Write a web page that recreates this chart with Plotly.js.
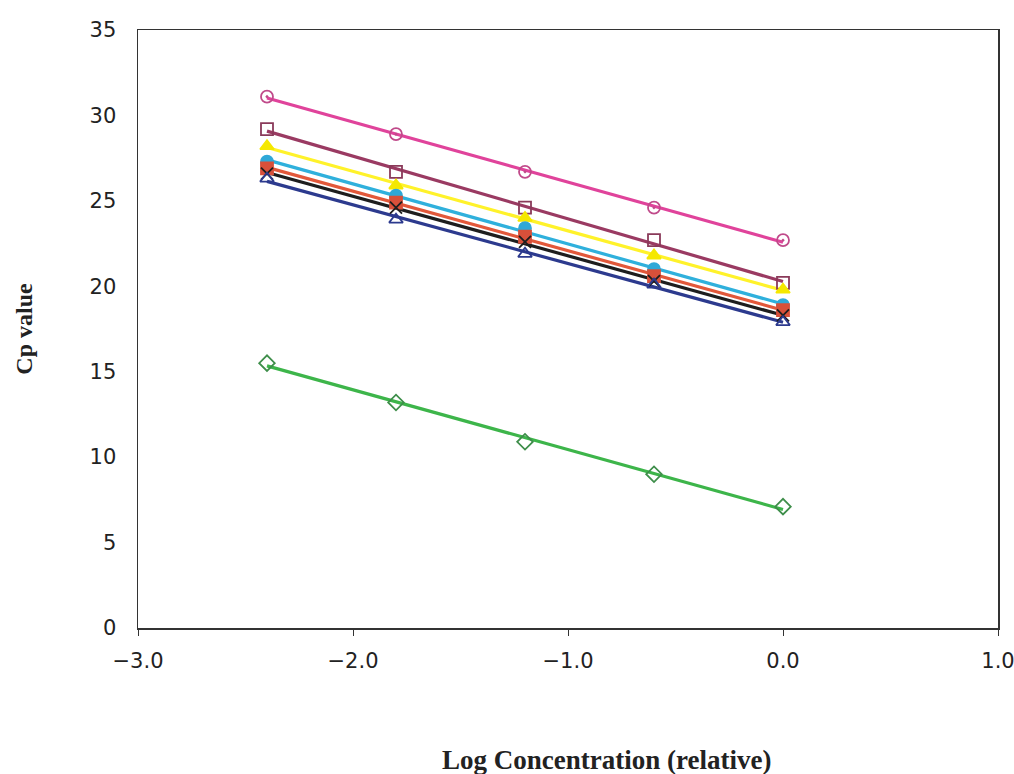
<!DOCTYPE html>
<html>
<head>
<meta charset="utf-8">
<script src="https://cdn.plot.ly/plotly-3.0.1.min.js"></script>
<style>
html,body{margin:0;padding:0;background:#fff;}
#chart{width:1014px;height:774px;}
</style>
</head>
<body>
<div id="chart"></div>
<script>
// Data
const logConc = [-2.4, -1.8, -1.2, -0.6, 0.0];

const seriesPink   = [31.1, 28.9, 26.7, 24.6, 22.7];
const seriesPlum   = [29.2, 26.7, 24.6, 22.7, 20.2];
const seriesYellow = [28.2, 25.9, 24.0, 21.8, 19.8];
const seriesCyan   = [27.3, 25.3, 23.4, 21.0, 18.9];
const seriesRed    = [26.9, 24.9, 22.9, 20.6, 18.6];
const seriesBlack  = [26.6, 24.6, 22.6, 20.3, 18.3];
const seriesNavy   = [26.3, 23.9, 21.9, 20.1, 17.9];
const seriesGreen  = [15.5, 13.2, 10.9, 9.0, 7.1];

const xTickVals = [-3, -2, -1, 0, 1];
const xTickText = ['\u22123.0', '\u22122.0', '\u22121.0', '0.0', '1.0'];
const yTickVals = [0, 5, 10, 15, 20, 25, 30, 35];

const styles = [
  {y: seriesPink,   color: '#E0439B', symbol: 'circle-open-dot', mcolor: '#C04A8A'},
  {y: seriesPlum,   color: '#9A3A62', symbol: 'square-open',     mcolor: '#8A3A5A'},
  {y: seriesYellow, color: '#FFF22A', symbol: 'triangle-up',     mcolor: '#F5E800'},
  {y: seriesCyan,   color: '#2FB0DC', symbol: 'circle',          mcolor: '#2FA8D8'},
  {y: seriesRed,    color: '#E2583A', symbol: 'square',          mcolor: '#D8503A'},
  {y: seriesBlack,  color: '#1E1E1E', symbol: 'x-thin-open',     mcolor: '#1E1E1E'},
  {y: seriesNavy,   color: '#2C3A8E', symbol: 'triangle-up-open',mcolor: '#2C3A8E'},
  {y: seriesGreen,  color: '#3DB54A', symbol: 'diamond-open',    mcolor: '#3E8E4A'}
];

function linFit(xs, ys) {
  const n = xs.length;
  let sx=0, sy=0, sxx=0, sxy=0;
  for (let i=0;i<n;i++){sx+=xs[i];sy+=ys[i];sxx+=xs[i]*xs[i];sxy+=xs[i]*ys[i];}
  const b = (n*sxy - sx*sy)/(n*sxx - sx*sx);
  const a = (sy - b*sx)/n;
  return {a, b};
}

const traces = [];
const xEnds = [logConc[0], logConc[logConc.length-1]];
styles.forEach(s => {
  const f = linFit(logConc, s.y);
  traces.push({
    x: xEnds, y: xEnds.map(x => f.a + f.b*x),
    mode: 'lines', line: {color: s.color, width: 3.2},
    hoverinfo: 'skip', showlegend: false
  });
});
styles.forEach(s => {
  traces.push({
    x: logConc, y: s.y, mode: 'markers',
    marker: {symbol: s.symbol, size: 12, color: s.mcolor, line: {color: s.mcolor, width: 1.8}},
    showlegend: false
  });
});

const tickFont = {family: 'DejaVu Sans, sans-serif', size: 21, color: '#222'};

const layout = {
  width: 1014, height: 774,
  margin: {l: 138, r: 16, t: 30, b: 146},
  paper_bgcolor: '#fff', plot_bgcolor: '#fff',
  showlegend: false,
  xaxis: {
    range: [-3, 1], tickvals: xTickVals, ticktext: xTickText,
    showgrid: false, zeroline: false,
    showline: true, linecolor: '#333', linewidth: 1.5, mirror: true,
    ticks: 'outside', ticklen: 6, tickcolor: '#333', ticklabelstandoff: 7,
    ticklabeloverflow: 'allow',
    tickfont: tickFont
  },
  yaxis: {
    range: [0, 35], tickvals: yTickVals,
    showgrid: false, zeroline: false,
    showline: true, linecolor: '#333', linewidth: 1.5, mirror: true,
    ticks: '', ticklabelstandoff: 16,
    tickfont: tickFont,
    title: {text: '<b>Cp value</b>', standoff: 50,
      font: {family: 'Liberation Serif, Times New Roman, serif', size: 24, color: '#222'}}
  },
  annotations: [{
    text: '<b>Log Concentration (relative)</b>',
    xref: 'paper', yref: 'paper', x: 0.545, y: -0.22,
    xanchor: 'center', yanchor: 'middle', showarrow: false,
    font: {family: 'Liberation Serif, Times New Roman, serif', size: 27, color: '#222'}
  }]
};

Plotly.newPlot('chart', traces, layout, {displayModeBar: false, staticPlot: true});
</script>
</body>
</html>
